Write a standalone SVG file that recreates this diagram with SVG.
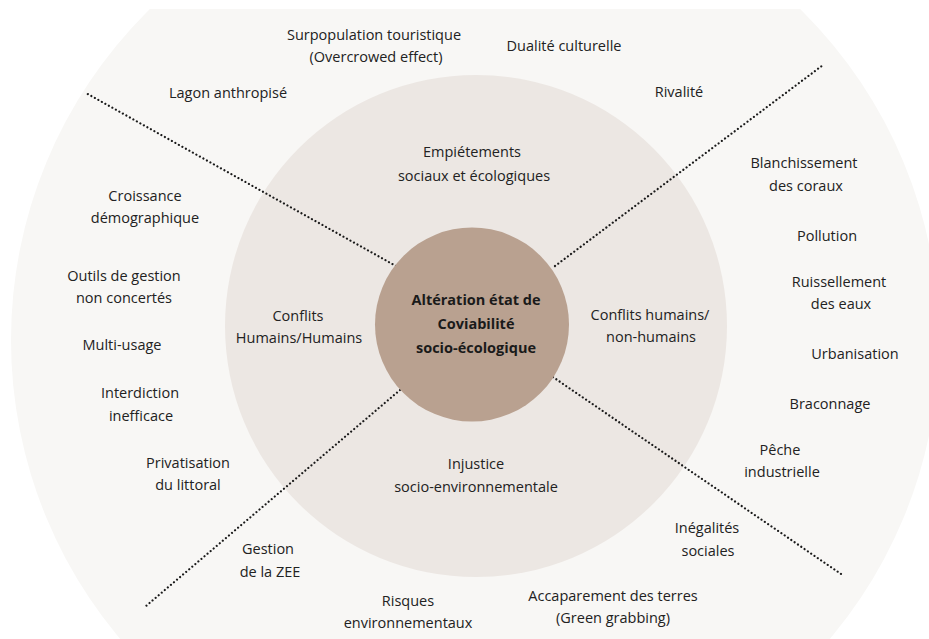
<svg xmlns="http://www.w3.org/2000/svg" width="929" height="639" viewBox="0 0 929 639">
<defs>
<clipPath id="page"><rect x="0" y="9" width="929" height="630"/></clipPath>
<style>
.t{font-family:"Open Sans","Liberation Sans",sans-serif;font-size:14.5px;fill:#222;text-anchor:middle}
.b{font-weight:bold;fill:#1a1a1a}
.dot{stroke:#1a1a1a;stroke-width:2.2;stroke-linecap:round;stroke-dasharray:0.01 4;fill:none}
</style>
</defs>
<rect width="929" height="639" fill="#ffffff"/>
<g id="outer-ring"><circle cx="475" cy="340" r="464" fill="#F8F7F5" clip-path="url(#page)"/></g>
<g id="middle-ring"><circle cx="476" cy="326" r="251" fill="#ECE7E3"/></g>
<g id="connectors">
<line class="dot" x1="396" y1="266" x2="86" y2="93"/>
<line class="dot" x1="555" y1="266" x2="823" y2="65"/>
<line class="dot" x1="400" y1="390" x2="146" y2="606"/>
<line class="dot" x1="553" y1="377" x2="844" y2="576"/>
</g>
<g id="core">
<circle cx="472" cy="324.5" r="97" fill="#B9A190"/>
<text class="t b" x="476" y="305">Altération état de</text>
<text class="t b" x="476" y="329">Coviabilité</text>
<text class="t b" x="476" y="353">socio-écologique</text>
</g>
<g id="sector-top"><text class="t" x="472" y="157">Empiétements</text><text class="t" x="474" y="181">sociaux et écologiques</text></g>
<g id="sector-left"><text class="t" x="298" y="321">Conflits</text><text class="t" x="299" y="343">Humains/Humains</text></g>
<g id="sector-right"><text class="t" x="650" y="320">Conflits humains/</text><text class="t" x="651" y="342">non-humains</text></g>
<g id="sector-bottom"><text class="t" x="476" y="469">Injustice</text><text class="t" x="476" y="492">socio-environnementale</text></g>
<g id="n-surpop"><text class="t" x="374" y="40">Surpopulation touristique</text><text class="t" x="376" y="62">(Overcrowed effect)</text></g>
<g id="n-dualite"><text class="t" x="564" y="51">Dualité culturelle</text></g>
<g id="n-lagon"><text class="t" x="228" y="98">Lagon anthropisé</text></g>
<g id="n-rivalite"><text class="t" x="679" y="97">Rivalité</text></g>
<g id="n-blanch"><text class="t" x="804" y="168">Blanchissement</text><text class="t" x="806" y="191">des coraux</text></g>
<g id="n-pollution"><text class="t" x="827" y="241">Pollution</text></g>
<g id="n-ruiss"><text class="t" x="839" y="287">Ruissellement</text><text class="t" x="841" y="309">des eaux</text></g>
<g id="n-urban"><text class="t" x="855" y="359">Urbanisation</text></g>
<g id="n-bracon"><text class="t" x="830" y="409">Braconnage</text></g>
<g id="n-peche"><text class="t" x="780" y="455">Pêche</text><text class="t" x="782" y="477">industrielle</text></g>
<g id="n-inegal"><text class="t" x="707" y="533">Inégalités</text><text class="t" x="708" y="556">sociales</text></g>
<g id="n-accap"><text class="t" x="613" y="601">Accaparement des terres</text><text class="t" x="613" y="623">(Green grabbing)</text></g>
<g id="n-risques"><text class="t" x="408" y="606">Risques</text><text class="t" x="408" y="628">environnementaux</text></g>
<g id="n-zee"><text class="t" x="268" y="554">Gestion</text><text class="t" x="270" y="577">de la ZEE</text></g>
<g id="n-privat"><text class="t" x="188" y="468">Privatisation</text><text class="t" x="188" y="490">du littoral</text></g>
<g id="n-interd"><text class="t" x="140" y="398">Interdiction</text><text class="t" x="141" y="421">inefficace</text></g>
<g id="n-multi"><text class="t" x="122" y="350">Multi-usage</text></g>
<g id="n-outils"><text class="t" x="124" y="281">Outils de gestion</text><text class="t" x="124" y="303">non concertés</text></g>
<g id="n-croiss"><text class="t" x="145" y="201">Croissance</text><text class="t" x="145" y="223">démographique</text></g>
</svg>
